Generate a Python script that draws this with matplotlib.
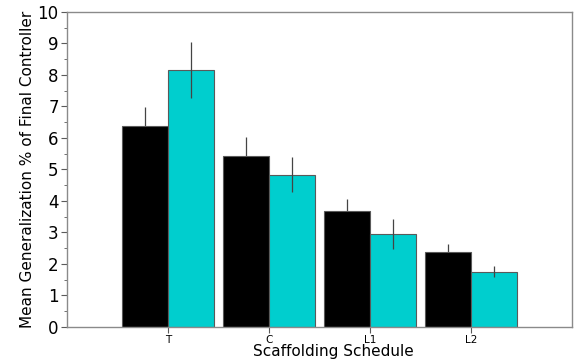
import matplotlib
matplotlib.use("Agg")
import matplotlib.pyplot as plt
import numpy as np
from matplotlib.ticker import MultipleLocator

# Data
schedules = ["T", "C", "L1", "L2"]
black_means = [6.38, 5.43, 3.68, 2.38]
black_errs = [0.60, 0.60, 0.38, 0.25]
cyan_means = [8.16, 4.83, 2.95, 1.75]
cyan_errs = [0.88, 0.56, 0.48, 0.17]

EDGE = "#5a5a5a"
CYAN = "#00CECE"

fig = plt.figure(figsize=(5.78, 3.6), dpi=100)
ax = fig.add_axes([0.116, 0.092, 0.874, 0.875])

x = np.arange(1, len(schedules) + 1)
width = 0.455

ax.bar(x - width / 2, black_means, width, color="black", edgecolor=EDGE,
       linewidth=0.8, zorder=2)
ax.bar(x + width / 2, cyan_means, width, color=CYAN, edgecolor=EDGE,
       linewidth=0.8, zorder=2)
# black bars hide the lower half of their error bars
ax.errorbar(x - width / 2, black_means, yerr=black_errs, fmt="none",
            ecolor="#444444", elinewidth=0.9, capsize=0, zorder=1)
ax.errorbar(x + width / 2, cyan_means, yerr=cyan_errs, fmt="none",
            ecolor="#444444", elinewidth=0.9, capsize=0, zorder=3)

ax.set_xlim(0, 5)
ax.set_ylim(0, 10)
ax.set_xticks(x)
ax.set_xticklabels(schedules, fontsize=7.5)
ax.yaxis.set_major_locator(MultipleLocator(1))
ax.yaxis.set_minor_locator(MultipleLocator(0.5))
ax.tick_params(axis="y", labelsize=12, colors=EDGE, labelcolor="black",
               length=4, pad=2)
ax.tick_params(axis="y", which="minor", colors=EDGE, length=2)
ax.tick_params(axis="x", colors=EDGE, labelcolor="black", length=4.5, pad=1)

for spine in ax.spines.values():
    spine.set_color("#8a8a8a")
    spine.set_linewidth(1.0)

ax.set_xlabel("Scaffolding Schedule", fontsize=11)
ax.xaxis.set_label_coords(0.527, -0.055)
ax.xaxis.label.set_va("top")
ax.set_ylabel("Mean Generalization % of Final Controller", fontsize=11,
              labelpad=2)

fig.savefig("out.png", dpi=100)
